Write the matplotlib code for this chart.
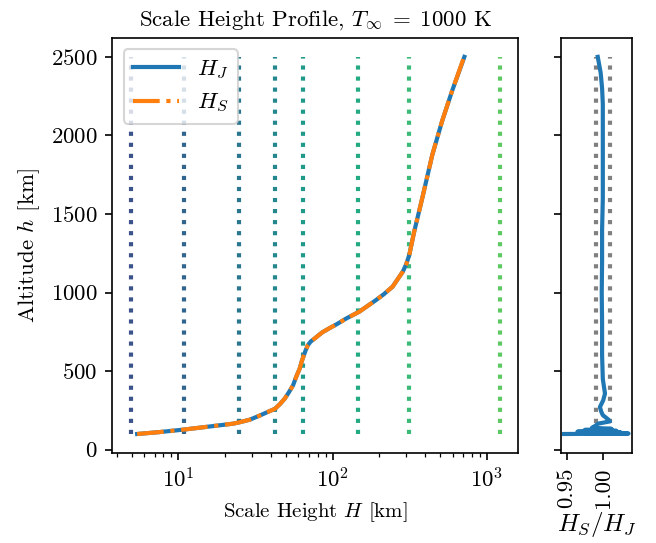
import numpy as np
import matplotlib
matplotlib.use("Agg")
from matplotlib import pyplot as plt

# fuente tipo LaTeX
plt.rcParams['font.family'] = 'serif'
plt.rcParams['font.serif'] = ['cmr10', 'DejaVu Serif']
plt.rcParams['mathtext.fontset'] = 'cm'
plt.rcParams['axes.formatter.use_mathtext'] = True
plt.rcParams['font.size'] = 11

## Datos
altitud_km = [100, 112, 128, 148, 166, 175, 191, 218, 238, 260, 290, 325, 365, 410,
              463, 517, 561, 600, 635, 664, 688, 708, 728, 748, 775, 797, 835, 878,
              952, 990, 1038, 1133, 1180, 1239, 1388, 1600, 1877, 2092, 2283, 2500]
H_J = [5.4, 7.5, 10.8, 16, 22.7, 25, 29, 33.8, 37.5, 42.2, 45.5, 48.9, 52, 55.4,
       58, 61.2, 63, 65, 67, 69, 72, 76.5, 81, 86, 96, 105.6, 122.5, 148.6,
       191, 215, 245, 285, 300, 314, 338, 381, 443, 513, 595, 715]
H_S = [5.4, 7.5, 10.8, 16, 22.7, 25, 29, 33.8, 37.5, 42.2, 45.5, 48.9, 52, 55.4,
       58, 61.2, 63, 65, 67, 69, 72, 76.5, 81, 86, 96, 105.6, 122.5, 148.6,
       191, 215, 245, 285, 300, 314, 338, 381, 443, 513, 595, 712]

# escalas de altura de referencia (lineas verticales)
H_especies = [4.9, 10.9, 24.8, 42.3, 64, 147, 314, 1213]

# cociente H_S/H_J
altitud_ratio = [100, 103, 106, 110, 115, 120, 126, 133, 140, 150, 166, 180, 190, 200,
                 220, 240, 272, 314, 357, 450, 600, 800, 1000, 1200, 1400, 1600, 1800,
                 2000, 2200, 2300, 2400, 2500]
ratio = [0.9465, 1.0355, 0.975, 1.025, 0.965, 1.019, 0.975, 1.012, 0.985, 0.989,
         0.9935, 1.0097, 1.008, 1.0055, 1.0, 0.998, 0.996, 1.0005, 1.003, 1.0,
         0.999, 0.999, 0.9985, 0.999, 0.999, 1.0, 1.0, 1.0, 1.0, 0.999, 0.997, 0.993]
ratio_limites = [0.99, 1.01]

h_min, h_max = min(altitud_km), max(altitud_km)

fig = plt.figure(figsize=(656 / 150, 543 / 150), dpi=150)
ax = fig.add_axes([0.171, 0.166, 0.619, 0.764])
ax2 = fig.add_axes([0.855, 0.166, 0.108, 0.764], sharey=ax)

## Panel principal
colores = plt.cm.viridis(np.linspace(0.25, 0.75, len(H_especies)))
for Hx, c in zip(H_especies, colores):
    ax.vlines(Hx, h_min, h_max, color=c, linestyle=':', linewidth=2)

ax.plot(H_J, altitud_km, color='C0', linewidth=2, label=r'$H_J$')
ax.plot(H_S, altitud_km, color='C1', linestyle='-.', linewidth=2, label=r'$H_S$')
ax.set_xscale('log')
ax.set_xlabel(r'Scale Height $H$ [km]', fontsize=10)
ax.set_ylabel(r'Altitude $h$ [km]', fontsize=11)
ax.set_title(r'Scale Height Profile, $T_\infty\;=\;1000$ K', fontsize=11)
ax.legend(loc='upper left')

## Panel del cociente
for r in ratio_limites:
    ax2.vlines(r, h_min, h_max, color='gray', linestyle=':', linewidth=2)
ax2.plot(ratio, altitud_ratio, color='C0', linewidth=2)
ax2.set_xticks([0.95, 1.00])
ax2.set_xticklabels(['0.95', '1.00'], rotation=90)
ax2.tick_params(labelleft=False)
ax2.set_xlabel(r'$H_S/H_J$', fontsize=12, labelpad=1)

fig.savefig('out.png', dpi=150)
